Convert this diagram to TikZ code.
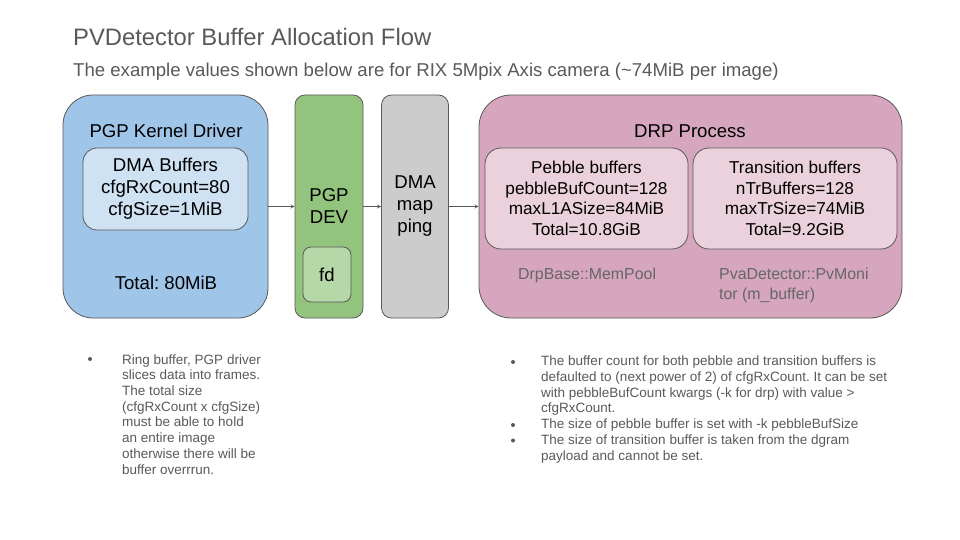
\documentclass[tikz,border=0pt]{standalone}
\usepackage{fontspec}
\setmainfont{Liberation Sans}
\usepackage{tikz}
\usetikzlibrary{positioning}
\frenchspacing

\definecolor{titlegray}{HTML}{595959}
\definecolor{edgegray}{HTML}{595959}
\definecolor{notegray}{HTML}{595959}
\definecolor{classgray}{HTML}{666666}
\definecolor{kblue}{HTML}{9FC5E8}
\definecolor{kbluelt}{HTML}{CFE2F3}
\definecolor{pgreen}{HTML}{93C47D}
\definecolor{pgreenlt}{HTML}{B6D7A8}
\definecolor{mgray}{HTML}{CCCCCC}
\definecolor{dpink}{HTML}{D5A6BD}
\definecolor{dpinklt}{HTML}{EAD1DC}

\begin{document}
\begin{tikzpicture}[x=1pt, y=-1pt, >=stealth,
	frame/.style={draw=edgegray, line width=0.8pt, inner sep=0pt},
	boxtext/.style={font=\fontsize{18.6}{22}\selectfont, align=center},
	buftext/.style={font=\fontsize{17.2}{20.7}\selectfont, align=center},
	notetext/.style={text=notegray, font=\fontsize{13.5}{15.7}\selectfont, align=left, inner sep=0pt},
	classtext/.style={text=classgray, font=\fontsize{15.9}{20}\selectfont, align=left, inner sep=0pt},
	dot/.style={circle, fill=notegray, inner sep=0pt, minimum size=4pt},
	flow/.style={->, draw=edgegray, line width=0.8pt}]

	\useasboundingbox (0,0) rectangle (960,540);

	% Title %
	\node [anchor=base west, inner sep=0pt, text=titlegray, font=\fontsize{23.8}{28}\selectfont] (title) at (73,46) {PVDetector Buffer Allocation Flow};
	\node [anchor=base west, inner sep=0pt, text=titlegray, font=\fontsize{18.6}{22}\selectfont] (subtitle) at (73,77) {The example values shown below are for RIX 5Mpix Axis camera (\textasciitilde 74MiB per image)};
	% Kernel Driver %
	\node [frame, fill=kblue, rounded corners=30pt, minimum width=205pt, minimum height=223pt] (kdrv) at (165.5,206.5) {};
	\node [boxtext] (kdrvlbl) at (166,131) {PGP Kernel Driver};
	\node [frame, fill=kbluelt, rounded corners=14pt, minimum width=165pt, minimum height=82pt, boxtext] (dmabuf) at (165.5,189) {DMA Buffers\\cfgRxCount=80\\cfgSize=1MiB};
	\node [boxtext] (kdrvtot) at (166,283) {Total: 80MiB};
	% PGP Device %
	\node [frame, fill=pgreen, rounded corners=10pt, minimum width=68pt, minimum height=223pt, boxtext] (pgpdev) at (329,206.5) {PGP\\DEV};
	\node [frame, fill=pgreenlt, rounded corners=8pt, minimum width=48pt, minimum height=55pt, boxtext] (fd) at (327,274.5) {fd};
	% DMA Mapping %
	\node [frame, fill=mgray, rounded corners=10pt, minimum width=67pt, minimum height=223pt, boxtext] (dmamap) at (415,206.5) {DMA\\map\\ping};
	% DRP Process %
	\node [frame, fill=dpink, rounded corners=32pt, minimum width=423pt, minimum height=223pt] (drp) at (690.5,206.5) {};
	\node [boxtext] (drplbl) at (690,131) {DRP Process};
	\node [frame, fill=dpinklt, rounded corners=16pt, minimum width=203pt, minimum height=101pt, buftext] (pebble) at (586.5,198.5) {Pebble buffers\\pebbleBufCount=128\\maxL1ASize=84MiB\\Total=10.8GiB};
	\node [frame, fill=dpinklt, rounded corners=16pt, minimum width=204pt, minimum height=101pt, buftext] (trans) at (795,198.5) {Transition buffers\\nTrBuffers=128\\maxTrSize=74MiB\\Total=9.2GiB};
	\node [classtext, anchor=base west] (mempool) at (518,279) {DrpBase::MemPool};
	\node [classtext, anchor=base west] (pvmon) at (719,299) {PvaDetector::PvMoni\\tor (m\_buffer)};
	% Flow %
	\draw [flow] (kdrv.east) -- (pgpdev.west);
	\draw [flow] (pgpdev.east) -- (dmamap.west);
	\draw [flow] (dmamap.east) -- (drp.west);
	% Notes %
	\node [dot] (dot1) at (90,359) {};
	\node [notetext, anchor=base west] (note1) at (122,474) {Ring buffer, PGP driver\\slices data into frames.\\The total size\\(cfgRxCount x cfgSize)\\must be able to hold\\an entire image\\otherwise there will be\\buffer overrrun.};
	\node [dot] (dot2) at (513,362) {};
	\node [dot] (dot3) at (513,425) {};
	\node [dot] (dot4) at (513,440.5) {};
	\node [notetext, anchor=base west] (note2) at (541,460) {The buffer count for both pebble and transition buffers is\\defaulted to (next power of 2) of cfgRxCount. It can be set\\with pebbleBufCount kwargs (-k for drp) with value >\\cfgRxCount.\\The size of pebble buffer is set with -k pebbleBufSize\\The size of transition buffer is taken from the dgram\\payload and cannot be set.};
\end{tikzpicture}
\end{document}
